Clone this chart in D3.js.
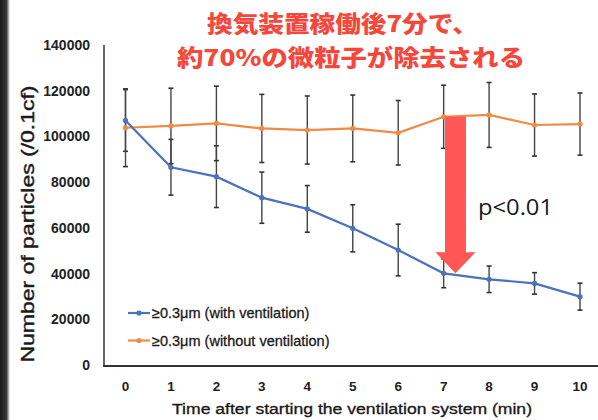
<!DOCTYPE html>
<html>
<head>
<meta charset="utf-8">
<script src="https://cdn.jsdelivr.net/npm/d3@7"></script>
<style>
  body { margin: 0; background: #fff; }
  svg { display: block; }
</style>
</head>
<body>
<script>
(function() {
    var w = 598,
        h = 420;

    // data
    var minutes = [0, 1, 2, 3, 4, 5, 6, 7, 8, 9, 10];
    var withVent = [107000, 86500, 82400, 73200, 68300, 59800, 50300, 40100, 37500, 35700, 29900];
    var withVentErr = [13500, 12200, 13500, 11200, 10200, 10300, 11300, 6300, 5800, 4700, 5900];
    var withoutVent = [103800, 104600, 105700, 103500, 102800, 103500, 101600, 108600, 109400, 105000, 105400];
    var withoutVentErr = [17000, 16500, 16300, 14900, 14900, 14600, 14100, 13800, 14200, 13600, 13600];
    var yTicks = [0, 20000, 40000, 60000, 80000, 100000, 120000, 140000];
    var seriesNames = ['\u22650.3\u03bcm (with ventilation)', '\u22650.3\u03bcm (without ventilation)'];
    var colors = ['#4a72bd', '#f08a45'];
    var arrowAt = 7.26; // arrow drawn between the two series near 7 min

    var svg = d3.select('body')
        .append('svg')
        .attr('width', w)
        .attr('height', h);

    // dark photo edge on the left
    var grad = svg.append('defs').append('linearGradient')
        .attr('id', 'edge');
    grad.append('stop').attr('offset', '0%').attr('stop-color', '#1a1a1a');
    grad.append('stop').attr('offset', '65%').attr('stop-color', '#3a3a3a');
    grad.append('stop').attr('offset', '100%').attr('stop-color', '#ffffff');
    svg.append('rect')
        .attr('x', 0).attr('y', 0)
        .attr('width', 10).attr('height', h)
        .attr('fill', 'url(#edge)');

    var x = d3.scaleLinear().domain([0, 10]).range([125.5, 580]);
    var y = d3.scaleLinear().domain([0, 140000]).range([365, 45]);

    // axes frame
    svg.append('line')
        .attr('x1', 104).attr('x2', 104)
        .attr('y1', y(140000)).attr('y2', y(0) + 1)
        .attr('stroke', '#333').attr('stroke-width', 1.5);
    svg.append('line')
        .attr('x1', 103).attr('x2', 598)
        .attr('y1', y(0) + 1).attr('y2', y(0) + 1)
        .attr('stroke', '#333').attr('stroke-width', 2);

    // y tick labels
    svg.append('g')
        .selectAll('text')
        .data(yTicks)
        .enter()
        .append('text')
        .attr('x', 90)
        .attr('y', function(d) { return y(d) + 5; })
        .attr('text-anchor', 'end')
        .attr('font-family', 'Liberation Sans, Arial, sans-serif')
        .attr('font-weight', 'bold')
        .attr('font-size', 14)
        .attr('fill', '#222')
        .text(function(d) { return d; });

    // x tick labels
    svg.append('g')
        .selectAll('text')
        .data(minutes)
        .enter()
        .append('text')
        .attr('x', function(d) { return x(d); })
        .attr('y', 391)
        .attr('text-anchor', 'middle')
        .attr('font-family', 'Liberation Sans, Arial, sans-serif')
        .attr('font-weight', 'bold')
        .attr('font-size', 13.5)
        .attr('fill', '#222')
        .text(function(d) { return d; });

    // axis titles (slight stroke to match the heavier print)
    svg.append('text')
        .attr('x', 352)
        .attr('y', 414)
        .attr('text-anchor', 'middle')
        .attr('font-family', 'Liberation Sans, Arial, sans-serif')
        .attr('font-size', 15.5)
        .attr('fill', '#1a1a1a')
        .attr('stroke', '#1a1a1a')
        .attr('stroke-width', 0.35)
        .attr('textLength', 360)
        .attr('lengthAdjust', 'spacingAndGlyphs')
        .text('Time after starting the ventilation system (min)');
    svg.append('text')
        .attr('transform', 'translate(34,224) rotate(-90)')
        .attr('text-anchor', 'middle')
        .attr('font-family', 'Liberation Sans, Arial, sans-serif')
        .attr('font-size', 18)
        .attr('fill', '#1a1a1a')
        .attr('stroke', '#1a1a1a')
        .attr('stroke-width', 0.4)
        .attr('textLength', 277)
        .attr('lengthAdjust', 'spacingAndGlyphs')
        .text('Number of particles (/0.1cf)');

    var series = [
        { values: withVent, err: withVentErr, color: colors[0] },
        { values: withoutVent, err: withoutVentErr, color: colors[1] }
    ];

    // error bars first, lines over them
    series.forEach(function(s) {
        var g = svg.append('g').attr('class', 'errbars');
        var rows = minutes.map(function(m, i) {
            return { m: m, lo: s.values[i] - s.err[i], hi: s.values[i] + s.err[i] };
        });
        g.selectAll('line.bar')
            .data(rows)
            .enter()
            .append('line')
            .attr('x1', function(d) { return x(d.m); })
            .attr('x2', function(d) { return x(d.m); })
            .attr('y1', function(d) { return y(d.hi); })
            .attr('y2', function(d) { return y(d.lo); })
            .attr('stroke', '#444')
            .attr('stroke-width', 1.4);
        ['hi', 'lo'].forEach(function(k) {
            g.selectAll('line.cap' + k)
                .data(rows)
                .enter()
                .append('line')
                .attr('x1', function(d) { return x(d.m) - 2.5; })
                .attr('x2', function(d) { return x(d.m) + 2.5; })
                .attr('y1', function(d) { return y(d[k]); })
                .attr('y2', function(d) { return y(d[k]); })
                .attr('stroke', '#333')
                .attr('stroke-width', 1.6);
        });
    });

    var line = d3.line()
        .x(function(d, i) { return x(minutes[i]); })
        .y(function(d) { return y(d); });

    series.slice().reverse().forEach(function(s) {
        svg.append('path')
            .datum(s.values)
            .attr('d', line)
            .attr('fill', 'none')
            .attr('stroke', s.color)
            .attr('stroke-width', 2.2);
        svg.append('g')
            .selectAll('circle')
            .data(s.values)
            .enter()
            .append('circle')
            .attr('cx', function(d, i) { return x(minutes[i]); })
            .attr('cy', function(d) { return y(d); })
            .attr('r', 2.6)
            .attr('fill', s.color);
    });

    // red arrow between the two series at ~7 min
    var ax = x(arrowAt),
        top = y(withoutVent[7]),
        tip = y(withVent[7]),
        headLen = 21;
    svg.append('path')
        .attr('d', 'M' + (ax - 10.5) + ',' + top +
            'L' + (ax + 10.5) + ',' + top +
            'L' + (ax + 10.5) + ',' + (tip - headLen) +
            'L' + (ax + 20) + ',' + (tip - headLen) +
            'L' + ax + ',' + tip +
            'L' + (ax - 20) + ',' + (tip - headLen) +
            'L' + (ax - 10.5) + ',' + (tip - headLen) + 'Z')
        .attr('fill', '#ff5656');

    svg.append('text')
        .attr('x', 478)
        .attr('y', 215)
        .attr('font-family', 'Open Sans, Noto Sans, sans-serif')
        .attr('font-size', 22)
        .attr('fill', '#1a1a1a')
        .attr('textLength', 75)
        .attr('lengthAdjust', 'spacingAndGlyphs')
        .text('p<0.01');

    // legend
    var legend = svg.append('g')
        .selectAll('g')
        .data(seriesNames)
        .enter()
        .append('g')
        .attr('transform', function(d, i) { return 'translate(128,' + (313 + i * 27.5) + ')'; });
    legend.append('line')
        .attr('x1', 0).attr('x2', 22)
        .attr('stroke', function(d, i) { return colors[i]; })
        .attr('stroke-width', 2.2);
    legend.append('circle')
        .attr('cx', 11).attr('r', 2.6)
        .attr('fill', function(d, i) { return colors[i]; });
    legend.append('text')
        .attr('x', 24)
        .attr('y', 5)
        .attr('font-family', 'Liberation Sans, Arial, sans-serif')
        .attr('font-size', 14.5)
        .attr('fill', '#1a1a1a')
        .attr('stroke', '#1a1a1a')
        .attr('stroke-width', 0.3)
        .text(function(d) { return d; });

    // red headline on two lines
    var title = ['\u63db\u6c17\u88c5\u7f6e\u7a3c\u50cd\u5f8c7\u5206\u3067\u3001',
                 '\u7d0470%\u306e\u5fae\u7c92\u5b50\u304c\u9664\u53bb\u3055\u308c\u308b'];
    svg.append('g')
        .selectAll('text')
        .data(title)
        .enter()
        .append('text')
        .attr('x', function(d, i) { return i === 0 ? 207 : 177; })
        .attr('y', function(d, i) { return i === 0 ? 32 : 65.5; })
        .attr('font-family', 'Noto Sans CJK JP, sans-serif')
        .attr('font-weight', 900)
        .attr('font-size', 22.5)
        .attr('fill', '#f5473b')
        .attr('textLength', function(d, i) { return i === 0 ? 271 : 348; })
        .attr('lengthAdjust', 'spacingAndGlyphs')
        .text(function(d) { return d; });
})();
</script>
</body>
</html>
